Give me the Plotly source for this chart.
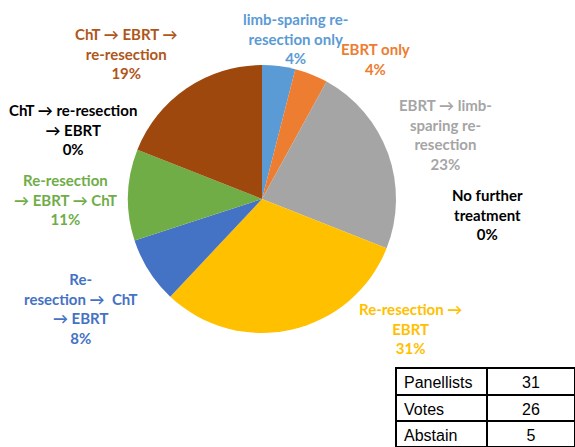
import plotly.graph_objects as go

# slices, clockwise from 12 o'clock
labels = [
    "limb-sparing re-<br>resection only",
    "EBRT only",
    "EBRT → limb-<br>sparing re-<br>resection",
    "No further<br>treatment",
    "Re-resection →<br>EBRT",
    "Re-<br>resection →  ChT<br>→ EBRT",
    "Re-resection<br>→ EBRT → ChT",
    "ChT → re-resection<br>→ EBRT",
    "ChT → EBRT →<br>re-resection",
]
percent = [4, 4, 23, 0, 31, 8, 11, 0, 19]
slice_colors = ["#5B9BD5", "#ED7D31", "#A5A5A5", "#000000", "#FFC000",
                "#4472C4", "#70AD47", "#000000", "#9E480E"]
label_colors = ["#5B9BD5", "#ED7D31", "#A5A5A5", "#000000", "#FFC000",
                "#4472C4", "#70AD47", "#000000", "#B0561A"]
# label centres in pixels (x, y from top)
label_pos = [(295, 39), (375, 59), (445, 134), (487, 214), (410, 328),
             (80, 308), (65, 199), (73, 130), (126, 53)]

table_rows = ["Panellists", "Votes", "Abstain"]
table_vals = ["31", "26", "5"]

W, H = 575, 447

fig = go.Figure()
fig.add_trace(go.Pie(
    labels=[l.replace("<br>", " ") for l in labels],
    values=percent,
    sort=False,
    direction="clockwise",
    rotation=0,
    textinfo="none",
    hoverinfo="label+percent",
    marker=dict(colors=slice_colors, line=dict(width=0)),
    domain=dict(x=[128 / W, 396 / W], y=[1 - 333 / H, 1 - 65 / H]),
    showlegend=False,
))

for lab, p, c, (px, py) in zip(labels, percent, label_colors, label_pos):
    fig.add_annotation(
        x=px / W, y=1 - py / H, xref="paper", yref="paper",
        text=f"<b>{lab}<br>{p}%</b>", showarrow=False,
        font=dict(family="Lato", size=15, color=c),
        align="center", xanchor="center", yanchor="middle",
    )

fig.add_trace(go.Table(
    domain=dict(x=[396 / W, 1], y=[0, 1 - 368 / H]),
    columnwidth=[91, 88],
    header=dict(values=[table_rows[0], table_vals[0]], height=27,
                align=["left", "center"], fill_color="white",
                line=dict(color="black", width=1.5),
                font=dict(family="Arial", size=16, color="black")),
    cells=dict(values=[table_rows[1:], table_vals[1:]], height=26,
               align=["left", "center"], fill_color="white",
               line=dict(color="black", width=1.5),
               font=dict(family="Arial", size=16, color="black")),
))

fig.update_layout(
    width=W, height=H,
    margin=dict(l=0, r=0, t=0, b=0),
    paper_bgcolor="white",
    plot_bgcolor="white",
)

fig.write_html("out.html", config={"displayModeBar": False},
               post_script="document.body.style.margin='0';")
